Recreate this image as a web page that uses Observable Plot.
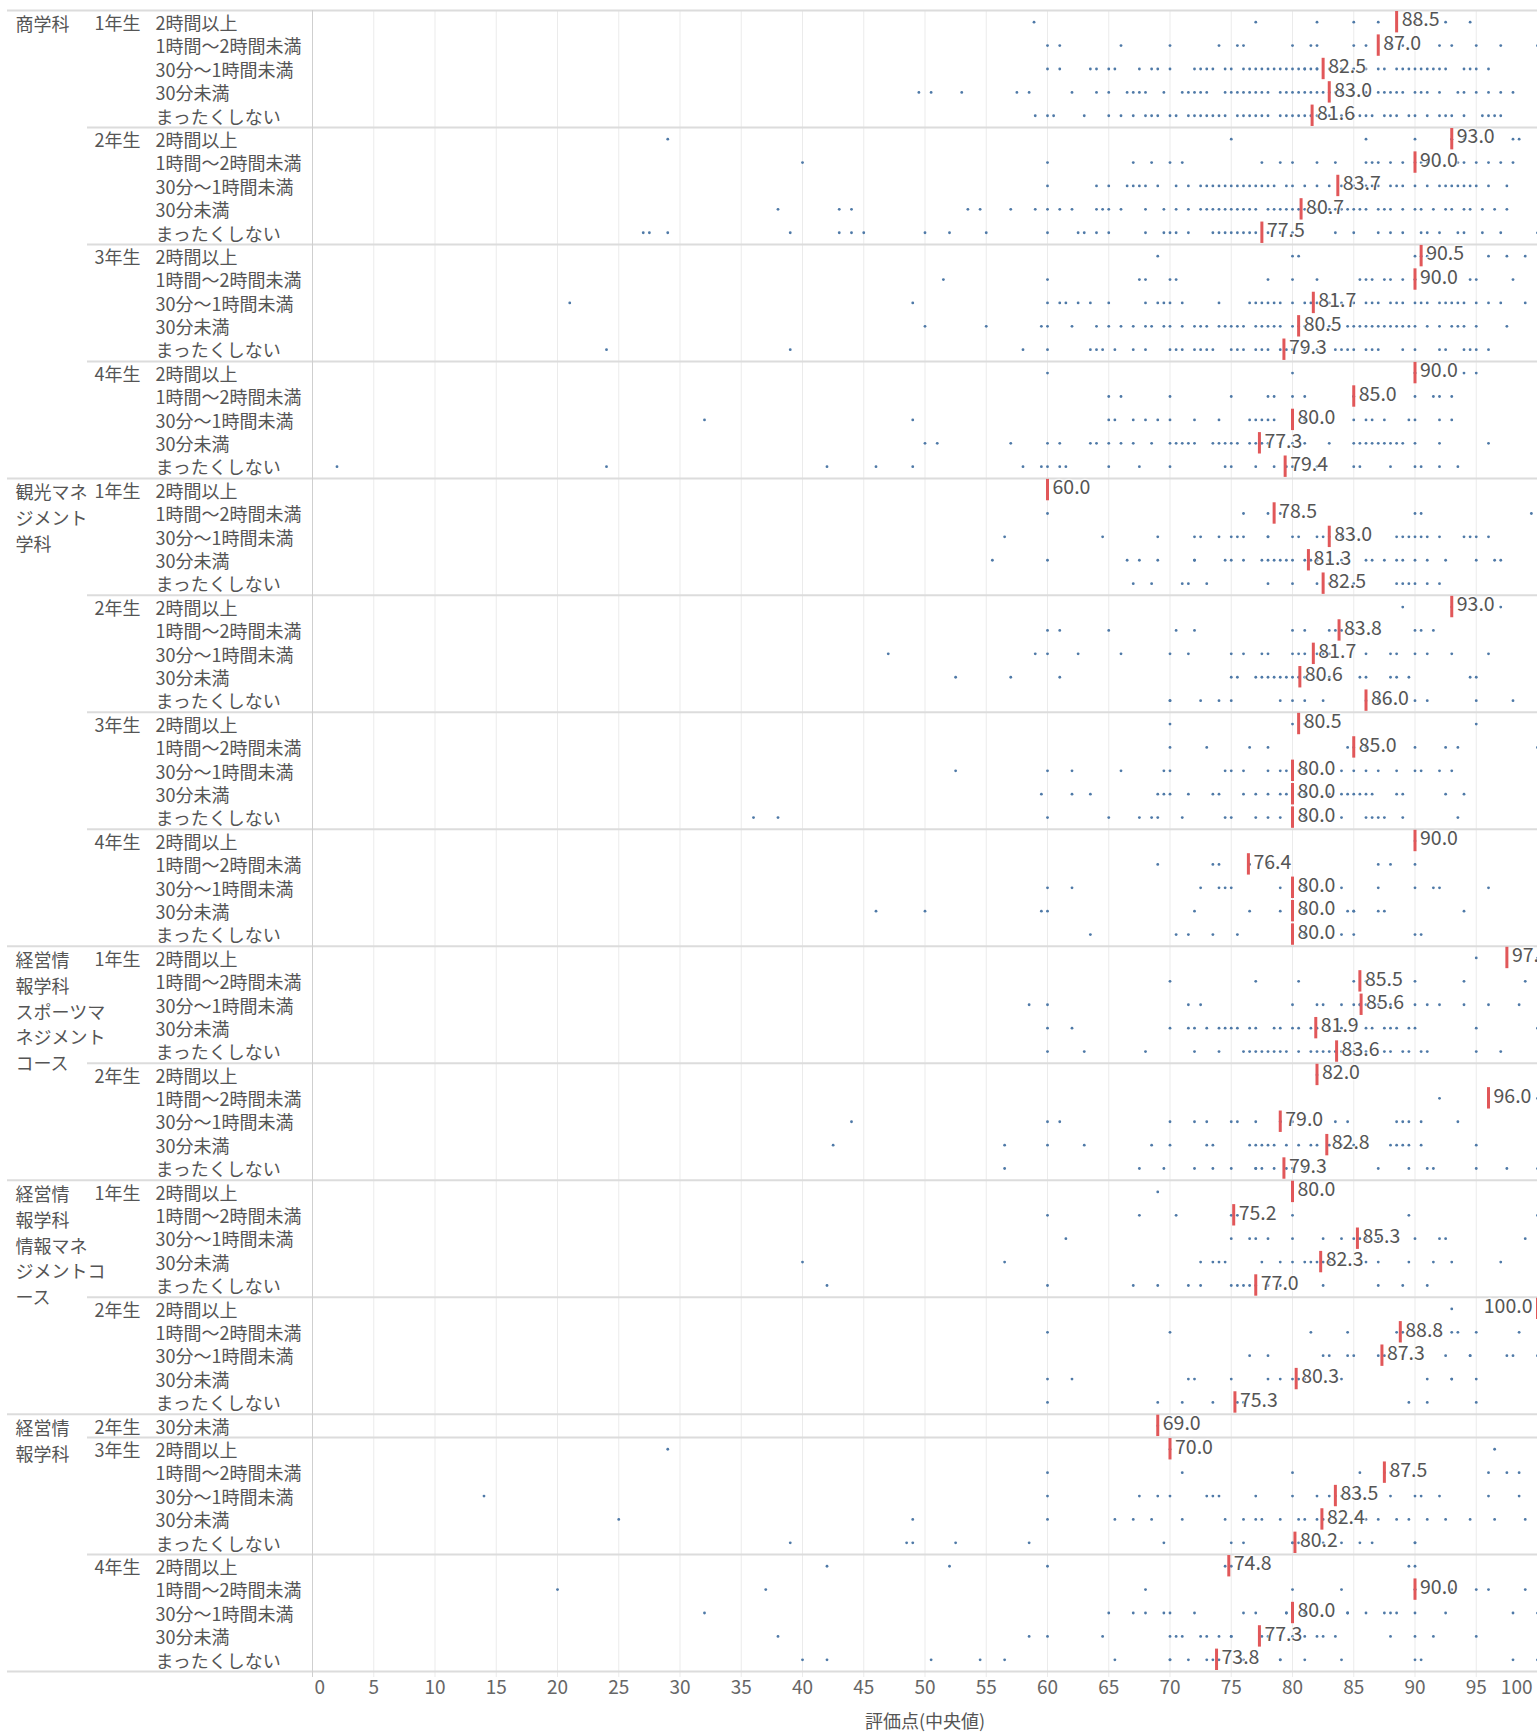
<!DOCTYPE html>
<html><head><meta charset="utf-8">
<script src="https://cdn.jsdelivr.net/npm/d3@7"></script>
<script src="https://cdn.jsdelivr.net/npm/@observablehq/plot@0.6"></script>
<style>body{margin:0;background:#fff;} #chart svg{display:block;}</style>
</head><body><div id="chart"></div>
<script>
const timeCategories = ["2時間以上", "1時間〜2時間未満", "30分〜1時間未満", "30分未満", "まったくしない"];
const departments = ["商学科", "観光マネジメント学科", "経営情報学科スポーツマネジメントコース", "経営情報学科情報マネジメントコース", "経営情報学科"];
const departmentLabels = ["商学科", "観光マネ\nジメント\n学科", "経営情\n報学科\nスポーツマ\nネジメント\nコース", "経営情\n報学科\n情報マネ\nジメントコ\nース", "経営情\n報学科"];
// [department index, year, time categories]
const groups = [
  [0, "1年生", timeCategories], [0, "2年生", timeCategories], [0, "3年生", timeCategories], [0, "4年生", timeCategories],
  [1, "1年生", timeCategories], [1, "2年生", timeCategories], [1, "3年生", timeCategories], [1, "4年生", timeCategories],
  [2, "1年生", timeCategories], [2, "2年生", timeCategories],
  [3, "1年生", timeCategories], [3, "2年生", timeCategories],
  [4, "2年生", ["30分未満"]], [4, "3年生", timeCategories], [4, "4年生", timeCategories]
];
const xTicks = [0, 5, 10, 15, 20, 25, 30, 35, 40, 45, 50, 55, 60, 65, 70, 75, 80, 85, 90, 95, 100];
const axisTitle = "評価点(中央値)";

const mediansShogaku = [88.5, 87.0, 82.5, 83.0, 81.6, 93.0, 90.0, 83.7, 80.7, 77.5, 90.5, 90.0, 81.7, 80.5, 79.3, 90.0, 85.0, 80.0, 77.3, 79.4];
const mediansKanko = [60.0, 78.5, 83.0, 81.3, 82.5, 93.0, 83.8, 81.7, 80.6, 86.0, 80.5, 85.0, 80.0, 80.0, 80.0, 90.0, 76.4, 80.0, 80.0, 80.0];
const mediansSports = [97.5, 85.5, 85.6, 81.9, 83.6, 82.0, 96.0, 79.0, 82.8, 79.3];
const mediansJoho = [80.0, 75.2, 85.3, 82.3, 77.0, 100.0, 88.8, 87.3, 80.3, 75.3];
const mediansKeiei = [69.0, 70.0, 87.5, 83.5, 82.4, 80.2, 74.8, 90.0, 80.0, 77.3, 73.8];

const scoresShogaku = [
  [58.9, 77, 82, 85, 87, 90, 92.5, 94.5],
  [60, 61, 66, 70, 74, 75.5, 76, 80, 81.5, 82, 85, 86, 88, 89, 92, 93, 95, 97, 100],
  [60, 61, 63.5, 64, 65, 65.5, 67.5, 68.5, 69, 70, 72, 72.5, 73, 73.5, 74.5, 75, 76, 76.5, 77, 77.5, 78, 78.5, 79, 79.5, 80, 80.5, 81, 81, 81.5, 82, 82, 83, 84, 85, 86, 87, 87.5, 88.5, 89, 89.5, 90, 90.5, 91, 91.5, 92, 92.5, 94, 94.5, 95, 96],
  [49.5, 50.5, 53, 57.5, 58.5, 62, 64, 65, 66.5, 67, 67.5, 68, 69.5, 71, 71.5, 72, 72.5, 73, 74.5, 75, 75.5, 76, 76.5, 77, 77.5, 78, 79, 79.5, 80, 80.5, 81, 81.5, 82, 82.5, 83, 83.5, 84, 85, 86, 87, 87.5, 88, 88.5, 89, 90, 90.5, 91, 92, 93.5, 94, 95, 96, 97, 98],
  [59, 60, 60.5, 63, 65, 66, 67, 68, 68.5, 69, 70, 70.5, 71.5, 72, 72.5, 73, 73.5, 74, 74.5, 75.5, 76, 76.5, 77, 77.5, 78, 79, 79.5, 80, 80.5, 81, 81.5, 82, 83, 84, 85, 85.5, 86, 86.5, 87.5, 88, 88.5, 89.5, 90, 91, 92, 92.5, 93, 94, 95.5, 96, 96.5, 97],
  [29, 75, 86, 90, 93, 93, 94, 98, 98.5],
  [40, 60, 67, 68.5, 70, 71, 77.5, 79, 80, 82, 83.5, 86, 86.5, 87, 88, 89, 90, 90.5, 91, 92, 93.5, 94, 95, 96, 97, 98],
  [60, 64, 65, 66.5, 67, 67.5, 68, 69, 70.5, 71.5, 72.5, 73, 73.5, 74, 74.5, 75, 75.5, 76, 76.5, 77, 77.5, 78, 78.5, 79.5, 80, 81, 82, 83, 84, 85, 86, 86.5, 87, 88, 88.5, 89, 90, 91, 92, 92.5, 93, 93.5, 94, 94.5, 95, 96, 97.5],
  [38, 43, 44, 53.5, 54.5, 57, 59, 60, 61, 62, 64, 64.5, 65, 66, 68, 69.5, 70.5, 71.5, 72.5, 73, 73.5, 74, 74.5, 75, 75.5, 76, 76.5, 77, 78, 78.5, 79, 79.5, 80, 80.5, 81, 82, 83, 83.5, 84, 84.5, 85, 85.5, 86, 87, 87.5, 88, 89, 90, 90.5, 91.5, 92.5, 93, 94, 94.5, 95.5, 96.5, 97.5],
  [27, 27.5, 29, 39, 43, 44, 45, 50, 52, 55, 60, 62.5, 63, 64, 65, 68, 69.5, 70, 70.5, 71.5, 73.5, 74, 74.5, 75, 75.5, 76, 76.5, 77, 78, 79, 80, 83.5, 85, 87, 88, 89, 90.5, 91, 92, 93.5, 94, 95.5, 97, 100],
  [69, 80, 80.5, 90, 90.5, 91, 96, 97.5, 99],
  [51.5, 60, 67.5, 68, 70, 70.5, 78, 80, 82, 85.5, 86, 86.5, 87.5, 88, 89, 90, 90, 91, 92, 94.5, 95, 98],
  [21, 49, 60, 61, 61.5, 62.5, 63.5, 65, 68, 69, 69.5, 70, 71, 74, 76.5, 77, 77.5, 78, 78.5, 79, 80, 81, 81.5, 82, 83, 84, 85, 86, 86.5, 87, 88, 88.5, 89, 90, 90.5, 91, 92, 92.5, 93, 93.5, 94, 95, 96, 97, 99],
  [50, 55, 59.5, 60, 62, 64, 65, 66, 67, 68, 68.5, 69.5, 70, 71, 72, 72.5, 73, 74, 74.5, 75, 75.5, 76, 77, 77.5, 78, 78.5, 79, 80, 80.5, 81, 82, 83, 84.5, 85, 85.5, 86, 86.5, 87, 87.5, 88, 88.5, 89, 89.5, 90, 91, 92, 93, 93.5, 94, 95, 97.5],
  [24, 39, 58, 60, 63.5, 64, 64.5, 65.5, 67, 68, 70, 70.5, 71, 72, 72.5, 73, 73.5, 75, 75.5, 76, 77, 77.5, 78, 79, 79.5, 80, 81, 82, 83.5, 84, 84.5, 85, 86, 86.5, 87, 89, 90, 92, 92.5, 94, 94.5, 95, 96],
  [60, 80, 90, 90, 94, 95],
  [65, 66, 70, 75, 78, 78.5, 80, 81, 85, 85, 87, 90, 91.5, 92, 93],
  [32, 49, 65, 65.5, 67, 68, 69, 70, 72, 74, 76.5, 77, 77.5, 78, 78.5, 80, 80, 81, 82, 85, 86, 86.5, 87.5, 89.5, 90, 92, 93],
  [50, 51, 57, 60, 61, 63.5, 64, 65, 66, 67, 68.5, 70, 70.5, 71, 71.5, 72, 73.5, 74, 74.5, 75, 75.5, 76.5, 77, 77.5, 78, 79, 80, 81, 83, 85, 85.5, 86, 86.5, 87, 87.5, 88, 88.5, 89, 90, 92, 96],
  [2, 24, 42, 46, 49, 58, 59.5, 60, 61, 61.5, 65, 67.5, 70, 74.5, 75, 77, 78.5, 79.5, 80, 82, 85, 85.5, 88, 90, 90.5, 92, 93.5]
];
const scoresKanko = [
  [60],
  [60, 76, 78, 79, 90, 90.5, 99.5],
  [56.5, 64.5, 69, 72, 72.5, 74, 75, 75.5, 76, 78, 78, 80, 80.5, 82, 82.5, 83, 84, 85, 88.5, 89, 89.5, 90, 90.5, 91, 92, 94, 94.5, 95, 96],
  [55.5, 60, 66.5, 67.5, 69, 72, 72, 74.5, 75, 76, 77.5, 78, 78.5, 79, 79.5, 80, 81, 81.5, 82, 83, 84, 86, 86.5, 87.5, 88.5, 89, 90, 91, 92.5, 95, 96.5, 97],
  [67, 68.5, 71, 71.5, 73, 78, 80, 82, 83, 85, 88.5, 89, 89.5, 90, 91, 92],
  [89, 93, 97],
  [60, 61, 65, 70.5, 72, 80, 81, 83, 83.5, 84, 85, 90, 90.5, 91.5],
  [47, 59, 60, 62.5, 66, 70, 71.5, 75, 76, 77.5, 78, 80, 80.5, 81, 82, 82.5, 83, 86, 88, 88.5, 90, 91, 93, 96],
  [52.5, 57, 61, 75, 75.5, 77, 77.5, 78, 78.5, 79, 79.5, 80, 80.5, 81, 82, 83, 85.5, 86, 88, 88.5, 89.5, 94.5, 95],
  [70, 70, 72.5, 74, 75, 79, 80, 81, 82.5, 86, 87, 88, 90, 91, 95, 98],
  [70, 80, 81, 95],
  [70, 73, 76.5, 78, 84.5, 85, 86, 90, 92.5, 93.5, 100],
  [52.5, 60, 62, 66, 69.5, 70, 74.5, 75, 76, 78, 79, 79.5, 80, 80.5, 81, 82, 84, 85, 86, 87, 88.5, 90, 90.5, 92, 93],
  [59.5, 62, 63.5, 69, 69.5, 70, 71.5, 73.5, 74, 76, 77, 78, 79, 79.5, 80, 80, 80.5, 81, 82, 83, 84, 84.5, 85, 85.5, 86, 86.5, 88.5, 89, 92.5, 94],
  [36, 38, 60, 65, 67.5, 68.5, 69, 71, 74.5, 75, 77, 78, 79, 80, 80, 81, 82, 84, 86, 86.5, 87, 87.5, 89, 93.5],
  [90],
  [69, 73.5, 74, 76.5, 78, 87, 88, 90],
  [60, 62, 72.5, 74, 74.5, 75, 79, 80, 80, 81, 84, 87, 90, 91.5, 92, 96],
  [46, 50, 59.5, 60, 72, 76.5, 79, 80, 80, 81, 84.5, 85, 85, 87, 87.5, 94],
  [63.5, 70.5, 71.5, 73.5, 75.5, 80, 80, 81, 84, 85, 90, 90.5]
];
const scoresSports = [
  [95, 100],
  [70, 77, 80.5, 85, 86, 90, 94, 99],
  [58.5, 60, 71.5, 72.5, 80, 82, 82.5, 84, 85, 85.5, 85.5, 86, 87, 88, 90, 91, 92, 94, 96, 98.5],
  [60, 62, 70, 71.5, 72, 73, 74, 74.5, 75, 75.5, 76.5, 77, 78.5, 79, 80, 80.5, 81.5, 82, 83, 84, 86, 86.5, 87.5, 88, 88.5, 89.5, 90, 95, 100],
  [60, 63, 68, 72, 74, 76, 76.5, 77, 77.5, 78, 78.5, 79, 79.5, 80.5, 81.5, 82, 82.5, 83, 83.5, 84, 85, 86, 87.5, 88, 89, 89.5, 90.5, 91, 95, 97],
  [82],
  [92, 100],
  [44, 60, 61, 70, 72, 73, 75, 75.5, 77, 79, 79, 80, 83.5, 84.5, 88.5, 89, 89.5, 90.5, 93.5],
  [42.5, 56.5, 60, 63, 68.5, 70, 73, 73.5, 76.5, 77, 77.5, 78, 78.5, 79.5, 80.5, 81.5, 82, 83, 84, 85, 88, 88.5, 89, 89.5, 90.5, 95],
  [56.5, 67.5, 69.5, 72, 73.5, 75, 77, 77, 77.5, 78.5, 79.5, 80, 81, 87, 89.5, 91, 91.5, 95, 97.5, 100]
];
const scoresJoho = [
  [69, 80, 82],
  [60, 67.5, 70.5, 75, 75.5, 80, 89.5, 100],
  [61.5, 75, 76.5, 77, 78, 80, 82.5, 84, 85, 85.5, 86, 87, 90, 92, 92.5, 99],
  [40, 56.5, 72.5, 73.5, 74, 74.5, 77.5, 79, 80, 81, 81.5, 82, 82.5, 83, 84, 86, 87, 89.5, 91.5, 93, 97],
  [42, 60, 67, 69, 71.5, 72.5, 75, 75.5, 76, 76.5, 77, 78, 79, 82.5, 87, 89, 91],
  [93, 100, 100],
  [60, 70, 81.5, 84.5, 88.5, 89, 93, 93.5, 95, 98.5],
  [76.5, 78, 82.5, 83, 84.5, 85, 87, 87.5, 89, 92.5, 94.5, 94.5, 97.5, 98, 100],
  [60, 62, 71.5, 72, 75, 78, 79, 80, 80.5, 81, 84, 91, 93, 93, 95],
  [60, 69, 71, 73.5, 75.5, 76, 89.5, 91, 95]
];
const scoresKeiei = [
  [69],
  [29, 70, 96.5],
  [60, 71, 80, 85.5, 87.5, 88, 96, 97.5, 98.5],
  [14, 60, 67.5, 69, 70, 73, 73.5, 74, 77, 80, 82, 83, 83.5, 84, 85.5, 88, 90, 90.5, 92, 96, 98.5],
  [25, 49, 60, 65.5, 67, 68.5, 71, 74.5, 76, 77, 77.5, 79, 80.5, 81, 82, 82.5, 83, 84, 86, 87, 88.5, 89.5, 91, 92.5, 94.5, 96.5, 99],
  [39, 48.5, 49, 52.5, 58.5, 69.5, 75, 76, 80, 80, 80.5, 82.5, 84, 85.5, 86.5, 90, 90],
  [42, 52, 60, 74.5, 75, 89.5, 90],
  [20, 37, 68, 80, 84, 90, 90, 93, 95, 96, 99],
  [32, 65, 67, 68, 69.5, 70, 72, 76, 77, 79.5, 79.5, 80, 81, 82, 84.5, 84.5, 86, 87.5, 88, 88.5, 90, 92.5, 98, 100],
  [38, 58.5, 60, 64.5, 70, 70.5, 71, 72.5, 73, 74, 75, 75, 77.5, 78, 79, 80, 81, 82, 82.5, 83.5, 88, 90, 91.5, 95],
  [40, 42, 50.5, 54.5, 56.5, 65.5, 70, 70, 71.5, 73, 73.5, 74, 76, 79, 79, 81, 84, 90, 90.5, 98, 100]
];

// ---- build rows ----
const allMedians = [...mediansShogaku, ...mediansKanko, ...mediansSports, ...mediansJoho, ...mediansKeiei];
const allScores = [...scoresShogaku, ...scoresKanko, ...scoresSports, ...scoresJoho, ...scoresKeiei];
const rows = [];
groups.forEach(([d, year, cats]) => cats.forEach((cat, ci) => rows.push({dept: d, year, cat, first: ci === 0})));
rows.forEach((r, i) => { r.i = i; r.median = allMedians[i]; });
const N = rows.length;
const dots = rows.flatMap((r, i) => allScores[i].map(v => ({i, v})));
const deptRows = rows.filter((r, i) => i === 0 || rows[i - 1].dept !== r.dept);
const deptStarts = deptRows.map(r => r.i);
const yearStarts = rows.filter((r, i) => i > 0 && r.first && rows[i - 1].dept === r.dept).map(r => r.i);

const font = "'Noto Sans CJK JP', 'Noto Sans', sans-serif";
const labelColor = "#555";
const headSize = 18;

const chart = Plot.plot({
  width: 1537, height: 1736,
  marginLeft: 312, marginRight: 0, marginTop: 10, marginBottom: 65,
  x: {domain: [0, 100], axis: null},
  y: {domain: [0, N], reverse: true, axis: null},
  style: {fontFamily: font, background: "white"},
  marks: [
    Plot.ruleX(xTicks.filter(t => t > 0), {x: d => d, stroke: "#ebebeb", strokeWidth: 1, insetBottom: -6}),
    Plot.ruleY(yearStarts, {y: d => d, stroke: "#dcdcdc", strokeWidth: 2, insetLeft: -225}),
    Plot.ruleY([...deptStarts, N], {y: d => d, stroke: "#dcdcdc", strokeWidth: 2, insetLeft: -305}),
    Plot.ruleX([0], {x: d => d, stroke: "#cfcfcf", strokeWidth: 1, insetBottom: -6}),
    Plot.dot(dots, {x: "v", y: d => d.i + 0.5, r: 1.4, fill: "#4e79a7", stroke: null}),
    Plot.ruleX(rows, {x: "median", y1: d => d.i, y2: d => d.i + 1, stroke: "#e15759", strokeWidth: 3, insetTop: 1, insetBottom: 1}),
    Plot.text(rows.filter(r => r.median < 100), {x: "median", y: d => d.i + 0.5, text: d => d.median.toFixed(1), textAnchor: "start", dx: 5, dy: -2, fontSize: 19.5, fill: labelColor, stroke: "white", strokeOpacity: 0.5, strokeWidth: 3, clip: true}),
    Plot.text(rows.filter(r => r.median >= 100), {x: "median", y: d => d.i + 0.5, text: d => d.median.toFixed(1), textAnchor: "end", dx: -5, dy: -2, fontSize: 19.5, fill: labelColor, stroke: "white", strokeOpacity: 0.5, strokeWidth: 3}),
    // left header columns
    Plot.text(rows, {y: d => d.i + 0.5, text: "cat", frameAnchor: "left", textAnchor: "start", dx: -157, dy: 2, fontSize: headSize, fill: labelColor}),
    Plot.text(rows.filter(r => r.first), {y: d => d.i + 0.5, text: "year", frameAnchor: "left", textAnchor: "start", dx: -218, dy: 2, fontSize: headSize, fill: labelColor}),
    Plot.text(deptRows, {y: d => d.i + 0.5, text: d => departmentLabels[d.dept], frameAnchor: "left", textAnchor: "start", lineAnchor: "top", lineHeight: 1.43, dx: -297, dy: -9, fontSize: headSize, fill: labelColor}),
    // x tick labels
    Plot.text(xTicks.slice(1, -1), {x: d => d, frameAnchor: "bottom", dy: 22, text: d => String(d), fontSize: 19, fill: "#666"}),
    Plot.text(xTicks.slice(0, 1), {x: d => d, frameAnchor: "bottom", dy: 22, dx: 2, textAnchor: "start", text: d => String(d), fontSize: 19, fill: "#666"}),
    Plot.text(xTicks.slice(-1), {x: d => d, frameAnchor: "bottom", dy: 22, dx: -5, textAnchor: "end", text: d => String(d), fontSize: 19, fill: "#666"}),
    Plot.text([axisTitle], {frameAnchor: "bottom", dy: 56, text: d => d, fontSize: 18, fill: labelColor})
  ]
});
document.getElementById("chart").append(chart);
</script>
</body></html>
